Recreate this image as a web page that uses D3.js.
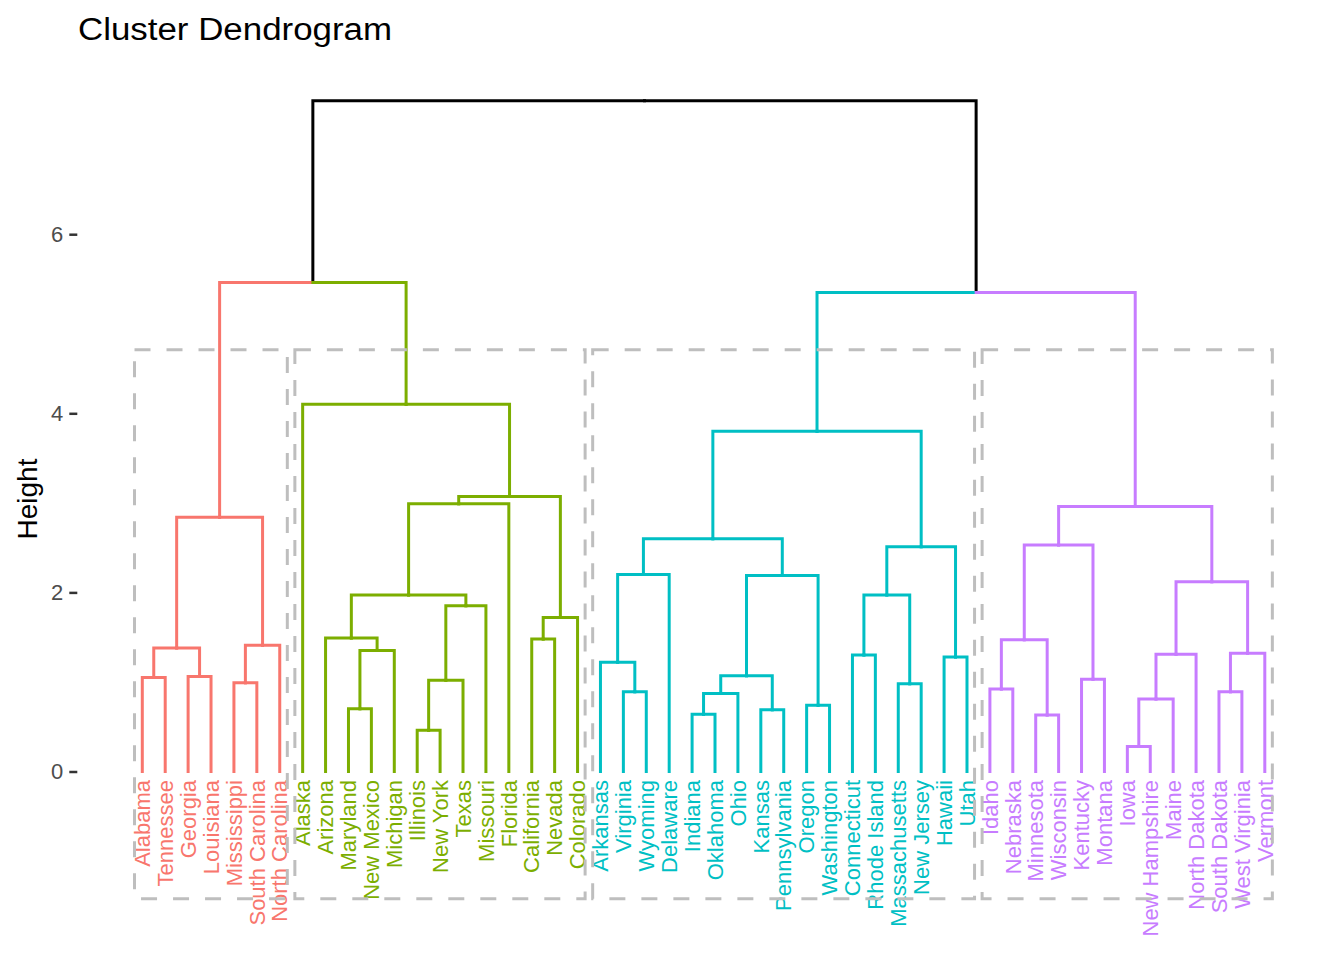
<!DOCTYPE html>
<html><head><meta charset="utf-8">
<script src="https://cdn.jsdelivr.net/npm/d3@7"></script>
<style>body{margin:0;background:#fff} svg{display:block}</style>
</head><body>
<svg id="chart" width="1344" height="960"></svg>
<script>
// Leaf order (left to right)
const states = ["Alabama","Tennessee","Georgia","Louisiana","Mississippi","South Carolina","North Carolina",
  "Alaska","Arizona","Maryland","New Mexico","Michigan","Illinois","New York","Texas","Missouri","Florida","California","Nevada","Colorado",
  "Arkansas","Virginia","Wyoming","Delaware","Indiana","Oklahoma","Ohio","Kansas","Pennsylvania","Oregon","Washington","Connecticut","Rhode Island","Massachusetts","New Jersey","Hawaii","Utah",
  "Idaho","Nebraska","Minnesota","Wisconsin","Kentucky","Montana","Iowa","New Hampshire","Maine","North Dakota","South Dakota","West Virginia","Vermont"];
const clusterSizes = [7, 13, 17, 13];
const clusterColors = ["#F8766D", "#7CAE00", "#00BFC4", "#C77CFF"];
// merges: [left, right]; string = leaf, number = earlier merge index
const merges = [
  ["Alabama","Tennessee"], ["Georgia","Louisiana"], [0,1], ["Mississippi","South Carolina"], [3,"North Carolina"], [2,4],
  ["Maryland","New Mexico"], [6,"Michigan"], ["Arizona",7], ["Illinois","New York"], [9,"Texas"], [10,"Missouri"], [8,11],
  [12,"Florida"], ["California","Nevada"], [14,"Colorado"], [13,15], ["Alaska",16], [5,17],
  ["Virginia","Wyoming"], ["Arkansas",19], [20,"Delaware"], ["Indiana","Oklahoma"], [22,"Ohio"], ["Kansas","Pennsylvania"], [23,24],
  ["Oregon","Washington"], [25,26], [21,27], ["Connecticut","Rhode Island"], ["Massachusetts","New Jersey"], [29,30], ["Hawaii","Utah"], [31,32], [28,33],
  ["Idaho","Nebraska"], ["Minnesota","Wisconsin"], [35,36], ["Kentucky","Montana"], [37,38], ["Iowa","New Hampshire"], [40,"Maine"], [41,"North Dakota"],
  ["South Dakota","West Virginia"], [43,"Vermont"], [42,44], [39,45], [34,46], [18,47]
];
const mergeHeights = [
  1.05, 1.06, 1.38, 0.99, 1.41, 2.84,
  0.70, 1.35, 1.49, 0.46, 1.02, 1.85, 1.97,
  2.99, 1.48, 1.72, 3.07, 4.10, 5.46,
  0.89, 1.22, 2.20, 0.64, 0.87, 0.69, 1.07,
  0.74, 2.19, 2.60, 1.30, 0.98, 1.97, 1.28, 2.51, 3.80,
  0.92, 0.63, 1.47, 1.03, 2.53, 0.28, 0.81, 1.31,
  0.89, 1.32, 2.12, 2.96, 5.35, 7.49
];
const yTicks = [0, 2, 4, 6];
const rectTop = 4.71, rectBottom = -1.42;

const svg = d3.select("#chart");
const x = d3.scaleLinear().domain([1, 50]).range([142.3, 1264.8]);
const y = d3.scaleLinear().domain([0, 6]).range([771.5, 234.2]);

// cluster index for each leaf
const clusterOf = {};
let acc = 0;
clusterSizes.forEach((n, ci) => { for (let i = 0; i < n; i++) clusterOf[states[acc + i]] = ci; acc += n; });

function build(ref) {
  if (typeof ref === "string") return {name: ref, h: 0};
  return {h: mergeHeights[ref], children: merges[ref].map(build)};
}
const root = d3.hierarchy(build(merges.length - 1));
root.eachAfter(d => {
  if (!d.children) { d.px = states.indexOf(d.data.name) + 1; d.cl = clusterOf[d.data.name]; }
  else {
    d.px = (d.children[0].px + d.children[1].px) / 2;
    d.cl = d.children[0].cl === d.children[1].cl ? d.children[0].cl : -1;
  }
});

const g = svg.append("g");
root.descendants().filter(d => d.parent).forEach(d => {
  g.append("path")
    .attr("d", `M${x(d.px)},${y(d.data.h)}V${y(d.parent.data.h)}H${x(d.parent.px)}`)
    .attr("fill", "none")
    .attr("stroke", d.cl >= 0 ? clusterColors[d.cl] : "#000")
    .attr("stroke-width", 3)
    .attr("stroke-linecap", "square");
});

// leaf labels
root.leaves().forEach(d => {
  svg.append("text")
    .attr("transform", `translate(${x(d.px)},780) rotate(-90)`)
    .attr("text-anchor", "end")
    .attr("dy", "0.35em")
    .attr("fill", clusterColors[d.cl])
    .style("font-family", "Liberation Sans, Arial, sans-serif")
    .style("font-size", "22px")
    .text(d.data.name);
});

// cluster rectangles
acc = 0;
clusterSizes.forEach(n => {
  const x0 = x(acc + 0.66), x1 = x(acc + n + 0.33);
  svg.append("rect")
    .attr("x", x0).attr("y", y(rectTop))
    .attr("width", x1 - x0).attr("height", y(rectBottom) - y(rectTop))
    .attr("fill", "none").attr("stroke", "#BEBEBE")
    .attr("stroke-width", 3).attr("stroke-dasharray", "16,16");
  acc += n;
});

// y axis
const ax = svg.append("g").attr("transform", "translate(77.3,0)")
  .call(d3.axisLeft(y).tickValues(yTicks).tickSize(8).tickPadding(6).tickFormat(d3.format("d")));
ax.select(".domain").remove();
ax.selectAll(".tick line").attr("stroke", "#333333").attr("stroke-width", 2.5);
ax.selectAll(".tick text").attr("fill", "#4D4D4D")
  .style("font-family", "Liberation Sans, Arial, sans-serif").style("font-size", "22px");

svg.append("text")
  .attr("transform", "translate(37,499) rotate(-90)")
  .attr("text-anchor", "middle")
  .style("font-family", "Liberation Sans, Arial, sans-serif").style("font-size", "28px")
  .text("Height");

svg.append("text")
  .attr("x", 78).attr("y", 40)
  .style("font-family", "Liberation Sans, Arial, sans-serif").style("font-size", "31px")
  .attr("textLength", 314).attr("lengthAdjust", "spacingAndGlyphs")
  .text("Cluster Dendrogram");
</script>
</body></html>
